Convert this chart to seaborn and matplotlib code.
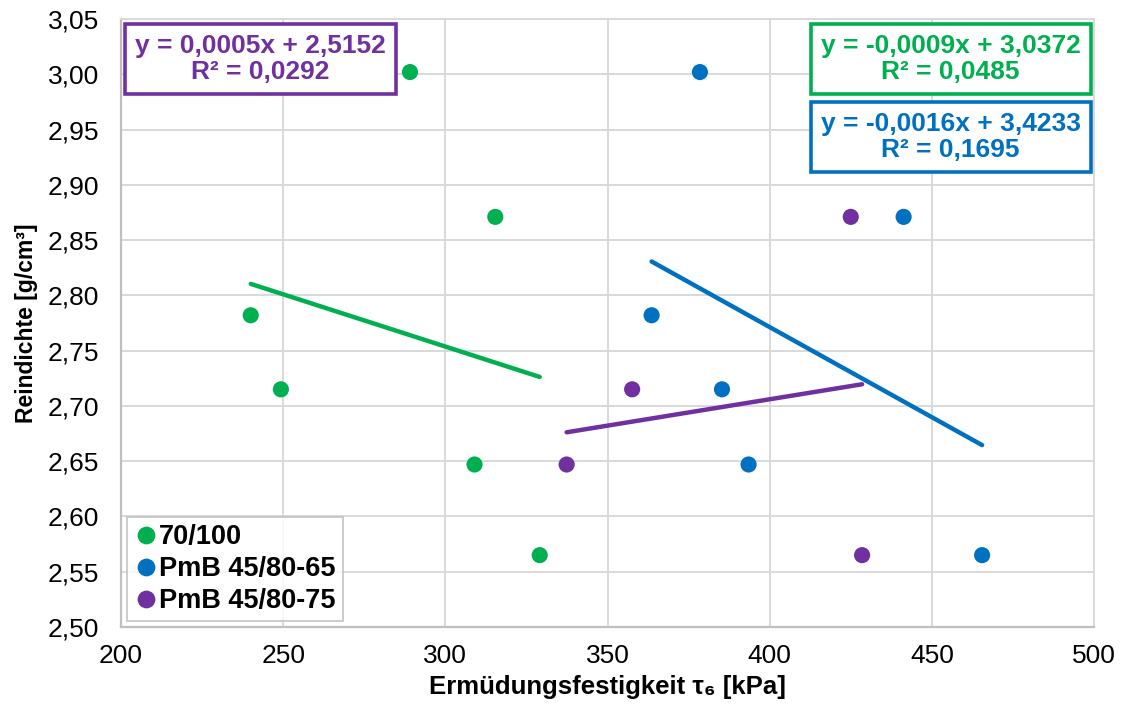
import numpy as np
import pandas as pd
import matplotlib
matplotlib.use("Agg")
import matplotlib.pyplot as plt
from matplotlib.patches import Rectangle
import seaborn as sns

# ---------------- data ----------------
series_names = ["70/100", "PmB 45/80-65", "PmB 45/80-75"]

green_x = [240.0, 249.3, 289.1, 315.4, 309.0, 329.1]
green_y = [2.782, 2.715, 3.002, 2.871, 2.647, 2.565]

blue_x = [378.5, 441.3, 363.6, 385.3, 393.5, 465.5]
blue_y = [3.002, 2.871, 2.782, 2.715, 2.647, 2.565]

purple_x = [425.0, 357.6, 337.4, 428.5]
purple_y = [2.871, 2.715, 2.647, 2.565]

# linear trend lines (slope, intercept) as drawn
trend_slopes = [-0.000945, -0.00163, 0.000477]
trend_intercepts = [3.0372, 3.4233, 2.5152]

eq_labels = ["y = -0,0009x + 3,0372\nR² = 0,0485",
             "y = -0,0016x + 3,4233\nR² = 0,1695",
             "y = 0,0005x + 2,5152\nR² = 0,0292"]

x_ticks = [200, 250, 300, 350, 400, 450, 500]
y_ticks = [2.50, 2.55, 2.60, 2.65, 2.70, 2.75, 2.80, 2.85, 2.90, 2.95, 3.00, 3.05]

colors = ["#00B050", "#0070C0", "#7030A0"]

# ---------------- frames ----------------
xs = [green_x, blue_x, purple_x]
ys = [green_y, blue_y, purple_y]
df = pd.concat([pd.DataFrame({"x": x, "y": y, "Bitumen": n})
                for x, y, n in zip(xs, ys, series_names)], ignore_index=True)

trend_rows = []
for x, n, m, b in zip(xs, series_names, trend_slopes, trend_intercepts):
    for xv in (min(x), max(x)):
        trend_rows.append({"x": xv, "y": m * xv + b, "Bitumen": n})
tdf = pd.DataFrame(trend_rows)

palette = dict(zip(series_names, colors))

# ---------------- figure ----------------
sns.set_theme(style="white")
plt.rcParams["font.family"] = ["Liberation Sans", "DejaVu Sans"]
plt.rcParams["text.color"] = "black"

W, H = 1123, 713
fig = plt.figure(figsize=(W / 100, H / 100), dpi=100)
ax = fig.add_axes([121 / W, 1 - 627 / H, (1094 - 121) / W, (627 - 19) / H])

sns.lineplot(data=tdf, x="x", y="y", hue="Bitumen", palette=palette,
             estimator=None, sort=False, lw=3.2, legend=False, ax=ax,
             zorder=4, solid_capstyle="round")
sns.scatterplot(data=df, x="x", y="y", hue="Bitumen", palette=palette,
                s=135, edgecolor="none", linewidth=0, ax=ax, zorder=3)

ax.set_xlim(200, 500)
ax.set_ylim(2.50, 3.05)
ax.set_xticks(x_ticks)
ax.set_xticklabels([str(t) for t in x_ticks])
ax.set_yticks(y_ticks)
ax.set_yticklabels([f"{t:.2f}".replace(".", ",") for t in y_ticks])
ax.tick_params(axis="both", length=0, labelsize=19, colors="black")
ax.tick_params(axis="x", pad=12)
ax.tick_params(axis="y", pad=16)

ax.grid(True, color="#D9D9D9", lw=1.4)
ax.set_axisbelow(True)
for s in ["left", "bottom"]:
    ax.spines[s].set_color("#BFBFBF")
    ax.spines[s].set_linewidth(1.6)
for s in ["top", "right"]:
    ax.spines[s].set_color("#D9D9D9")
    ax.spines[s].set_linewidth(1.4)

ax.set_xlabel("Ermüdungsfestigkeit τ₆ [kPa]", fontsize=18.5,
              fontweight="bold", labelpad=5, color="black")
ax.set_ylabel("Reindichte [g/cm³]", fontsize=16.5, fontweight="bold",
              labelpad=7, color="black")

leg = ax.legend(loc="lower left", bbox_to_anchor=(0.006, 0.01),
                prop={"weight": "bold", "size": 19.5}, frameon=True,
                fancybox=False, edgecolor="#BFBFBF", borderpad=0.25,
                handletextpad=0.05, labelspacing=0.22, handlelength=0.9,
                borderaxespad=0, markerscale=1.1, title=None)
leg.get_frame().set_linewidth(1.4)
for t in leg.get_texts():
    t.set_color("black")

# equation boxes (pixel layout)
boxes = [(810.6, 24, 280, 70), (810.6, 101.7, 280, 70), (125, 24, 271, 70)]
for (x0, y0, w, h), lab, c in zip(boxes, eq_labels, colors):
    fig.add_artist(Rectangle((x0 / W, 1 - (y0 + h) / H), w / W, h / H,
                             transform=fig.transFigure, facecolor="white",
                             edgecolor=c, lw=2.6, zorder=10))
    fig.text((x0 + w / 2) / W, 1 - (y0 + h / 2) / H, lab, ha="center",
             va="center", ma="center", color=c, fontsize=19,
             fontweight="bold", linespacing=1.12, zorder=11)

fig.savefig("out.png", dpi=100)
